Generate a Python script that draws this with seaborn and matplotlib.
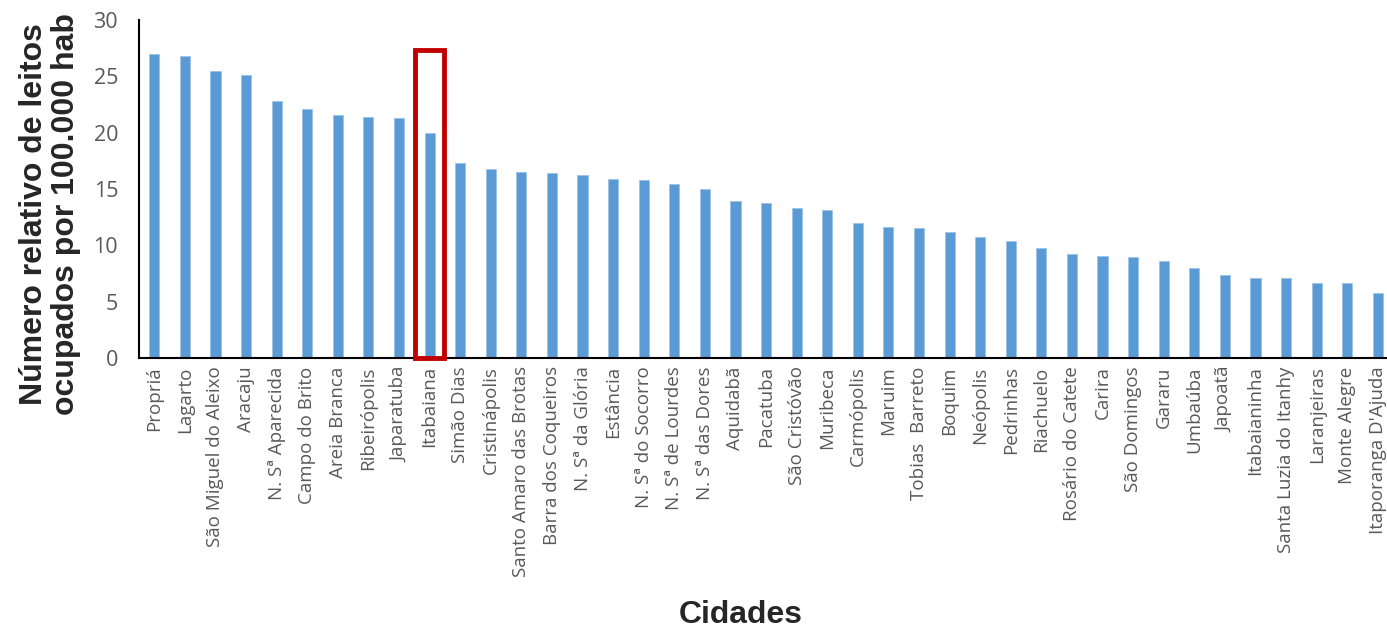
import pandas as pd
import matplotlib.pyplot as plt
import seaborn as sns
from matplotlib.patches import Rectangle

# Cities and relative number of occupied beds per 100.000 inhabitants
cidades = ['Propriá', 'Lagarto', 'São Miguel do Aleixo', 'Aracaju', 'N. Sª Aparecida',
           'Campo do Brito', 'Areia Branca', 'Ribeirópolis', 'Japaratuba', 'Itabaiana',
           'Simão Dias', 'Cristinápolis', 'Santo Amaro das Brotas', 'Barra dos Coqueiros',
           'N. Sª da Glória', 'Estância', 'N. Sª do Socorro', 'N. Sª de Lourdes',
           'N. Sª das Dores', 'Aquidabã', 'Pacatuba', 'São Cristóvão', 'Muribeca',
           'Carmópolis', 'Maruim', 'Tobias  Barreto', 'Boquim', 'Neópolis', 'Pedrinhas',
           'Riachuelo', 'Rosário do Catete', 'Carira', 'São Domingos', 'Gararu', 'Umbaúba',
           'Japoatã', 'Itabaianinha', 'Santa Luzia do Itanhy', 'Laranjeiras', 'Monte Alegre',
           'Itaporanga D\'Ajuda']
leitos = [27.0, 26.8, 25.5, 25.1, 22.8, 22.1, 21.6, 21.4, 21.3, 20.0,
          17.3, 16.8, 16.5, 16.4, 16.2, 15.9, 15.8, 15.4, 15.0, 13.9,
          13.8, 13.3, 13.1, 12.0, 11.6, 11.5, 11.2, 10.7, 10.4, 9.8,
          9.2, 9.05, 9.0, 8.6, 8.0, 7.4, 7.1, 7.1, 6.7, 6.7, 5.8]
destaque = 'Itabaiana'

df = pd.DataFrame({'Cidade': cidades, 'Leitos': leitos})

sns.set_style('white')
plt.rcParams['font.family'] = ['Open Sans', 'DejaVu Sans']

fig, ax = plt.subplots(figsize=(13.87, 6.3), dpi=100)
sns.barplot(data=df, x='Cidade', y='Leitos', color='#5B9BD5', saturation=1, width=0.33,
            edgecolor='#9DC3E6', linewidth=0.6, ax=ax)

# highlight box around Itabaiana
i = cidades.index(destaque)
ax.add_patch(Rectangle((i - 0.47, 0), 0.94, 27.3, fill=False, edgecolor='#C00000',
                       linewidth=3.5, zorder=5, clip_on=False))

ax.set_ylim(0, 30)
ax.set_xlim(-0.5, len(cidades) - 0.7)
ax.set_yticks(range(0, 31, 5))
ax.tick_params(axis='y', labelsize=15.5, colors='#595959', length=0, pad=15)
ax.tick_params(axis='x', labelsize=13.5, colors='#595959', length=0, rotation=90, pad=6)
for s in ['top', 'right']:
    ax.spines[s].set_visible(False)
ax.spines['left'].set_color('black')
ax.spines['bottom'].set_color('black')
ax.spines['left'].set_linewidth(1.5)
ax.spines['bottom'].set_linewidth(1.5)
ax.set_xlabel('')
ax.set_ylabel('')

fig.text(741 / 1387, 1 - 615 / 630, 'Cidades', fontsize=23, fontweight='bold',
         family='Liberation Sans', ha='center', va='center')
fig.text(50 / 1387, 1 - 214 / 630, 'Número relativo de leitos\nocupados por 100.000 hab',
         fontsize=23, fontweight='bold', family='Liberation Sans', rotation=90,
         ha='center', va='center', linespacing=1.05, multialignment='center')

plt.subplots_adjust(left=139 / 1387, right=1.0, top=1 - 20 / 630, bottom=1 - 358 / 630)
plt.savefig('out.png', dpi=100)
